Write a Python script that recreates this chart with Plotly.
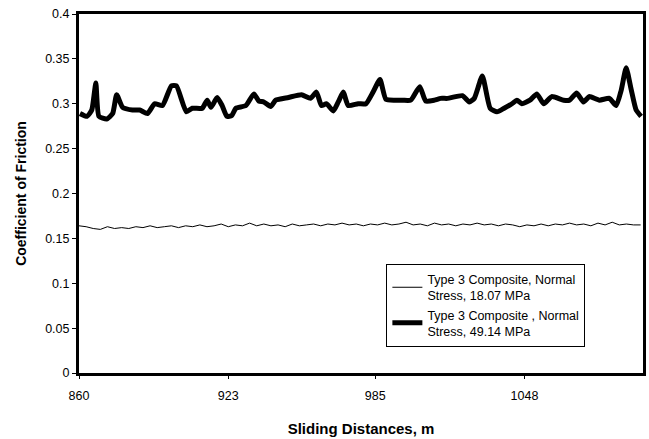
import plotly.graph_objects as go

# Thick series: Type 3 Composite, Normal Stress 49.14 MPa
x_thick = [860.4, 863.4, 865.4, 867.1, 868.4, 871.7, 874.2, 875.9, 878.4, 882.6,
           885.6, 888.9, 891.9, 895.2, 899.0, 901.1, 905.3, 907.8, 912.0, 914.1,
           915.7, 918.3, 920.4, 922.4, 924.5, 926.2, 930.4, 933.8, 935.9, 938.0,
           940.9, 943.0, 948.4, 953.9, 957.7, 960.2, 962.3, 964.4, 967.3, 969.4,
           971.5, 973.6, 977.8, 981.1, 984.1, 987.0, 989.5, 993.3, 996.6, 1000.0,
           1003.8, 1006.3, 1010.0, 1012.6, 1015.5, 1021.8, 1024.7, 1026.8, 1030.2, 1033.5,
           1036.4, 1039.4, 1042.7, 1044.8, 1046.9, 1050.3, 1053.2, 1056.1, 1059.5, 1064.5,
           1067.0, 1070.0, 1072.9, 1075.4, 1079.6, 1083.8, 1086.7, 1088.8, 1090.9, 1093.0,
           1095.1, 1097.2]
y_thick = [0.289, 0.286, 0.293, 0.323, 0.286, 0.283, 0.289, 0.310, 0.296, 0.293,
           0.293, 0.289, 0.300, 0.298, 0.320, 0.320, 0.291, 0.295, 0.295, 0.304,
           0.296, 0.307, 0.298, 0.286, 0.287, 0.295, 0.298, 0.311, 0.303, 0.302,
           0.297, 0.304, 0.307, 0.310, 0.306, 0.313, 0.298, 0.300, 0.292, 0.302,
           0.313, 0.298, 0.300, 0.300, 0.313, 0.327, 0.305, 0.304, 0.304, 0.304,
           0.319, 0.303, 0.304, 0.306, 0.306, 0.309, 0.302, 0.306, 0.331, 0.295,
           0.291, 0.295, 0.300, 0.304, 0.300, 0.304, 0.311, 0.300, 0.308, 0.304,
           0.304, 0.312, 0.302, 0.308, 0.304, 0.306, 0.298, 0.315, 0.340, 0.316,
           0.293, 0.286]

# Thin series: Type 3 Composite, Normal Stress 18.07 MPa
x_thin = list(range(860, 1098, 3))
y_thin = [0.164, 0.163, 0.161, 0.160, 0.163, 0.161, 0.162, 0.161, 0.163, 0.162,
          0.164, 0.162, 0.163, 0.164, 0.162, 0.164, 0.163, 0.165, 0.163, 0.164,
          0.166, 0.163, 0.165, 0.164, 0.167, 0.164, 0.166, 0.164, 0.165, 0.163,
          0.166, 0.164, 0.165, 0.166, 0.164, 0.166, 0.165, 0.167, 0.165, 0.166,
          0.164, 0.166, 0.165, 0.167, 0.165, 0.166, 0.168, 0.165, 0.166, 0.164,
          0.167, 0.165, 0.166, 0.164, 0.166, 0.165, 0.167, 0.165, 0.166, 0.164,
          0.166, 0.165, 0.163, 0.165, 0.164, 0.166, 0.164, 0.166, 0.165, 0.167,
          0.165, 0.166, 0.164, 0.167, 0.165, 0.168, 0.165, 0.166, 0.165, 0.165]

x_tick_vals = [860, 923, 985, 1048]
x_tick_text = ["860", "923", "985", "1048"]

name_thin = "Type 3 Composite, Normal<br>Stress, 18.07 MPa"
name_thick = "Type 3 Composite , Normal<br>Stress, 49.14 MPa"

fig = go.Figure()
fig.add_trace(go.Scatter(x=x_thin, y=y_thin, mode="lines", name=name_thin,
                         line=dict(color="black", width=1)))
fig.add_trace(go.Scatter(x=x_thick, y=y_thick, mode="lines", name=name_thick,
                         line=dict(color="black", width=5, shape="spline",
                                   smoothing=0.5)))

font_family = "Liberation Sans, Arial, sans-serif"
fig.update_layout(
    width=649, height=439,
    margin=dict(l=79, r=3, t=14, b=61),
    paper_bgcolor="white", plot_bgcolor="white",
    font=dict(family=font_family, size=12, color="black"),
    showlegend=True,
    legend=dict(x=0.545, y=0.305, xanchor="left", yanchor="top",
                bgcolor="white", bordercolor="black", borderwidth=1,
                font=dict(size=12.5, family=font_family, color="black"),
                tracegroupgap=0, itemwidth=30),
    xaxis=dict(range=[860, 1098], tickvals=x_tick_vals, ticktext=x_tick_text,
               showgrid=False, zeroline=False, showline=True, linecolor="black",
               linewidth=3, mirror=True, ticks="outside", ticklen=3,
               tickcolor="black", ticklabelstandoff=6,
               tickfont=dict(size=12.5),
               title=dict(text="<b>Sliding Distances, m</b>", font=dict(size=15),
                          standoff=22)),
    yaxis=dict(range=[0, 0.4], dtick=0.05, tick0=0, showgrid=False, zeroline=False,
               showline=True, linecolor="black", linewidth=3, mirror=True,
               ticks="outside", ticklen=4, tickcolor="black",
               tickfont=dict(size=12.5),
               title=dict(text="<b>Coefficient of Friction</b>", font=dict(size=14),
                          standoff=16)),
)

fig.write_html("out.html")
